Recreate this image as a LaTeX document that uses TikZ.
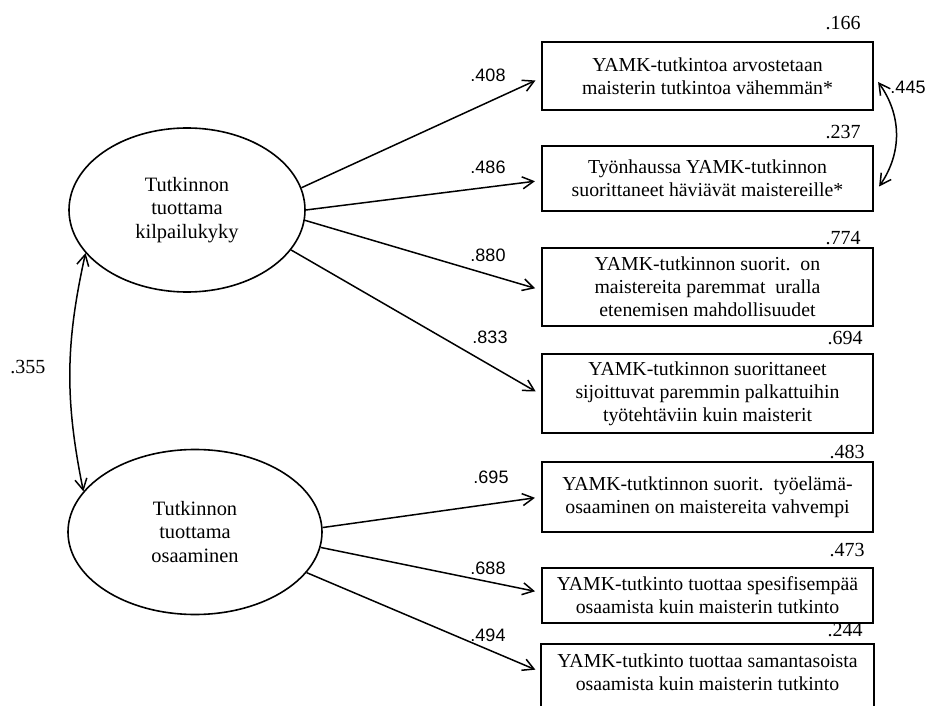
\documentclass[tikz,border=0pt]{standalone}
\usepackage{fontspec}
\setmainfont{Liberation Serif}
\newfontfamily\numfont{Liberation Sans}
\usetikzlibrary{shapes.geometric,arrows.meta}

\tikzset{
  latent/.style={draw,ellipse,line width=0.8pt,inner sep=0pt,align=center,
    font=\fontsize{10.2}{11.8}\selectfont},
  item/.style={draw,rectangle,line width=1.1pt,minimum width=165.5pt,inner sep=0pt,
    align=center,font=\fontsize{9.9}{11.5}\selectfont},
  load/.style={font=\numfont\fontsize{9}{10}\selectfont,inner sep=0pt},
  rsq/.style={font=\fontsize{10}{11}\selectfont,inner sep=0pt},
  path/.style={line width=0.75pt,-{Straight Barb[length=5.5pt,width=6pt]},shorten >=3pt},
  cov/.style={line width=0.75pt,{Straight Barb[length=5.5pt,width=6pt]}-{Straight Barb[length=5.5pt,width=6pt]}}
}

\begin{document}
\begin{tikzpicture}[x=0.5pt,y=-0.5pt]
\useasboundingbox (0,0) rectangle (928,706);
% factors
\node[latent,minimum width=118pt,minimum height=82pt] (lat1) at (187,210)
  {Tutkinnon\\tuottama\\kilpailukyky};
\node[latent,minimum width=127pt,minimum height=82.5pt] (lat2) at (195,532)
  {Tutkinnon\\tuottama\\osaaminen};
% items
\node[item,minimum height=34pt] (b1) at (707.5,76)
  {YAMK-tutkintoa arvostetaan\\maisterin tutkintoa vähemmän*};
\node[item,minimum height=32.5pt] (b2) at (707.5,178.5)
  {Työnhaussa YAMK-tutkinnon\\suorittaneet häviävät maistereille*};
\node[item,minimum height=39pt] (b3) at (707.5,287)
  {YAMK-tutkinnon suorit.\ \ on\\maistereita paremmat\ \ uralla\\etenemisen mahdollisuudet};
\node[item,minimum height=39.5pt] (b4) at (707.5,393.5)
  {YAMK-tutkinnon suorittaneet\\sijoittuvat paremmin palkattuihin\\työtehtäviin kuin maisterit};
\node[item,minimum height=35pt] (b5) at (707.5,497)
  {YAMK-tutktinnon suorit.\ \ työelämä-\\osaaminen on maistereita vahvempi};
\node[item,minimum height=27.5pt] (b6) at (707.5,595.5)
  {YAMK-tutkinto tuottaa spesifisempää\\osaamista kuin maisterin tutkinto};
\node[item,draw=none,minimum height=27pt] (b7) at (707.5,672)
  {YAMK-tutkinto tuottaa samantasoista\\osaamista kuin maisterin tutkinto};
\draw[line width=1.1pt] (b7.north west) rectangle ([yshift=-10pt]b7.south east);
% loadings
\draw[path] (lat1.11) -- ([yshift=-1pt]b1.west);
\draw[path] (lat1.east) -- ([yshift=-1pt]b2.west);
\draw[path] (lat1.-5) -- ([yshift=-1.5pt]b3.west);
\draw[path] (lat1.-21) -- ([yshift=-0.5pt]b4.west);
\draw[path] (lat2.2) -- (b5.west);
\draw[path] (lat2.-7) -- ([yshift=1.5pt]b6.west);
\draw[path] (lat2.-20) -- (b7.west);
% covariances
\draw[cov] (lat1.203) to[bend right=12] (lat2.160);
\draw[cov] ([xshift=2pt,yshift=-3pt]b1.east) to[bend left=35] ([xshift=2.5pt,yshift=-4pt]b2.east);
% coefficients
\node[load] (k1) at (488,75) {.408};
\node[load] (k2) at (488,167) {.486};
\node[load] (k3) at (488,255) {.880};
\node[load] (k4) at (490,337) {.833};
\node[load] (k5) at (491,477) {.695};
\node[load] (k6) at (488,568) {.688};
\node[load] (k7) at (488,635) {.494};
\node[load] (c1) at (908,87) {.445};
\node[rsq] (c2) at (28,367) {.355};
% r-squares
\node[rsq] (r1) at (843,23) {.166};
\node[rsq] (r2) at (843,132) {.237};
\node[rsq] (r3) at (843,238) {.774};
\node[rsq] (r4) at (845,338) {.694};
\node[rsq] (r5) at (847,452) {.483};
\node[rsq] (r6) at (847,550) {.473};
\node[rsq] (r7) at (845,630) {.244};
\end{tikzpicture}
\end{document}
